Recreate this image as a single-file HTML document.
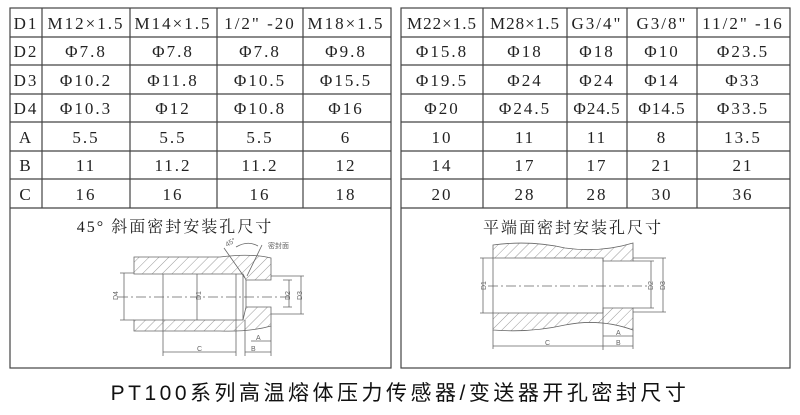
<!DOCTYPE html>
<html><head><meta charset="utf-8"><style>
body{margin:0;background:#fff;width:800px;height:415px;overflow:hidden;position:relative;font-family:"Liberation Serif","Noto Serif CJK SC",serif}
svg{position:absolute;left:0;top:0}
</style></head><body>
<svg width="800" height="415" viewBox="0 0 800 415" xmlns="http://www.w3.org/2000/svg">
<defs>
<pattern id="h" width="7" height="7" patternUnits="userSpaceOnUse" patternTransform="rotate(45)">
<line x1="0" y1="0" x2="0" y2="7" stroke="#555" stroke-width="0.6"/></pattern>
</defs>
<g stroke="#444" stroke-width="1.2" fill="none">
<rect x="10" y="8" width="381" height="360"/>
<rect x="401" y="8" width="389" height="360"/>
<path d="M10 37H391M10 65H391M10 94H391M10 122H391M10 151H391M10 179H391M10 208H391"/>
<path d="M401 37H790M401 65H790M401 94H790M401 122H790M401 151H790M401 179H790M401 208H790"/>
<path d="M42 8V208M130 8V208M217 8V208M303 8V208"/>
<path d="M483 8V208M567 8V208M627 8V208M697 8V208"/>
</g>
<g font-size="17" text-anchor="middle" fill="#222" letter-spacing="2">
<text x="26" y="29">D1</text><text x="86" y="29">M12×1.5</text><text x="173" y="29">M14×1.5</text><text x="260" y="29">1/2" -20</text><text x="346" y="29">M18×1.5</text>
<text x="26" y="57">D2</text><text x="86" y="57">Φ7.8</text><text x="173" y="57">Φ7.8</text><text x="260" y="57">Φ7.8</text><text x="346" y="57">Φ9.8</text>
<text x="26" y="86">D3</text><text x="86" y="86">Φ10.2</text><text x="173" y="86">Φ11.8</text><text x="260" y="86">Φ10.5</text><text x="346" y="86">Φ15.5</text>
<text x="26" y="114">D4</text><text x="86" y="114">Φ10.3</text><text x="173" y="114">Φ12</text><text x="260" y="114">Φ10.8</text><text x="346" y="114">Φ16</text>
<text x="26" y="143">A</text><text x="86" y="143">5.5</text><text x="173" y="143">5.5</text><text x="260" y="143">5.5</text><text x="346" y="143">6</text>
<text x="26" y="171">B</text><text x="86" y="171">11</text><text x="173" y="171">11.2</text><text x="260" y="171">11.2</text><text x="346" y="171">12</text>
<text x="26" y="200">C</text><text x="86" y="200">16</text><text x="173" y="200">16</text><text x="260" y="200">16</text><text x="346" y="200">18</text>
<text x="442" y="29" letter-spacing="1">M22×1.5</text><text x="525" y="29" letter-spacing="1">M28×1.5</text><text x="597" y="29">G3/4"</text><text x="662" y="29">G3/8"</text><text x="743" y="29">11/2" -16</text>
<text x="442" y="57">Φ15.8</text><text x="525" y="57">Φ18</text><text x="597" y="57">Φ18</text><text x="662" y="57">Φ10</text><text x="743" y="57">Φ23.5</text>
<text x="442" y="86">Φ19.5</text><text x="525" y="86">Φ24</text><text x="597" y="86">Φ24</text><text x="662" y="86">Φ14</text><text x="743" y="86">Φ33</text>
<text x="442" y="114">Φ20</text><text x="525" y="114">Φ24.5</text><text x="597" y="114" letter-spacing="1">Φ24.5</text><text x="662" y="114" letter-spacing="1">Φ14.5</text><text x="743" y="114">Φ33.5</text>
<text x="442" y="143">10</text><text x="525" y="143">11</text><text x="597" y="143">11</text><text x="662" y="143">8</text><text x="743" y="143">13.5</text>
<text x="442" y="171">14</text><text x="525" y="171">17</text><text x="597" y="171">17</text><text x="662" y="171">21</text><text x="743" y="171">21</text>
<text x="442" y="200">20</text><text x="525" y="200">28</text><text x="597" y="200">28</text><text x="662" y="200">30</text><text x="743" y="200">36</text>
</g>
<text x="175" y="232" font-size="16" text-anchor="middle" fill="#222" letter-spacing="2">45° 斜面密封安装孔尺寸</text>
<text x="573" y="233" font-size="16" text-anchor="middle" fill="#222" letter-spacing="2">平端面密封安装孔尺寸</text>
<!-- left drawing -->
<g stroke="#666" stroke-width="0.8">
<path d="M134 257 H220 Q250 253 271 258 V280 H246 L243 274 H163 H134Z" fill="url(#h)"/>
<path d="M134 331 H220 Q250 332 271 326 V307 H246 L243 320 H163 H134Z" fill="url(#h)"/>
<path d="M163 274 V320 M236 274 V320 M243 274 V320 M246 280 V307" fill="none"/>
<path d="M118 297 H290" stroke-dasharray="10 3 2 3" fill="none"/>
<path d="M124 273 V320 M120 273H134 M120 320H134 M197 274V320 M289 280V307 M283 280H292 M283 307H292 M301 276V314 M271 276H304 M271 314H304" fill="none"/>
<path d="M163 320V356 M236 320V356 M245 320V356 M271 326V356 M163 352H236 M245 352H271 M251 341H271" fill="none"/>
<path d="M224 248 L245 278 M262 245 L247 276 M236 247 Q248 240 258 246" fill="none"/>
</g>
<g font-size="7" fill="#666" font-family="Liberation Sans,sans-serif">
<text x="118" y="300" transform="rotate(-90 118 300)">D4</text>
<text x="201" y="300" transform="rotate(-90 201 300)">D1</text>
<text x="290" y="300" transform="rotate(-90 290 300)">D2</text>
<text x="302" y="300" transform="rotate(-90 302 300)">D3</text>
<text x="197" y="351">C</text><text x="251" y="351">B</text><text x="256" y="340">A</text>
<text x="268" y="248" font-family="Noto Sans CJK SC,sans-serif">密封面</text>
<text x="227" y="247" transform="rotate(-30 227 247)">45°</text>
</g>
<!-- right drawing -->
<g stroke="#666" stroke-width="0.8">
<path d="M493 245 Q530 240 565 248 Q600 253 633 243 V261 H603 V258 H493Z" fill="url(#h)"/>
<path d="M493 330 Q530 333 565 325 Q600 318 633 330 V308 H603 V313 H493Z" fill="url(#h)"/>
<path d="M493 258V313 M603 258V313" fill="none"/>
<path d="M488 286 H650" stroke-dasharray="10 3 2 3" fill="none"/>
<path d="M483 258V313 M480 258H493 M480 313H493 M651 261V308 M633 261H654 M633 308H654 M663 258V312 M633 258H666 M633 312H666" fill="none"/>
<path d="M493 330V349 M603 310V350 M633 330V349 M493 346H603 M603 346H633 M603 336H633" fill="none"/>
</g>
<g font-size="7" fill="#666" font-family="Liberation Sans,sans-serif">
<text x="486" y="290" transform="rotate(-90 486 290)">D1</text>
<text x="653" y="290" transform="rotate(-90 653 290)">D2</text>
<text x="665" y="290" transform="rotate(-90 665 290)">D3</text>
<text x="545" y="345">C</text><text x="616" y="345">B</text><text x="616" y="335">A</text>
</g>
<text x="400" y="400" font-size="21" text-anchor="middle" fill="#111" font-family="Liberation Sans,Noto Sans CJK SC,sans-serif" letter-spacing="3.5">PT100系列高温熔体压力传感器/变送器开孔密封尺寸</text>
</svg>
</body></html>
